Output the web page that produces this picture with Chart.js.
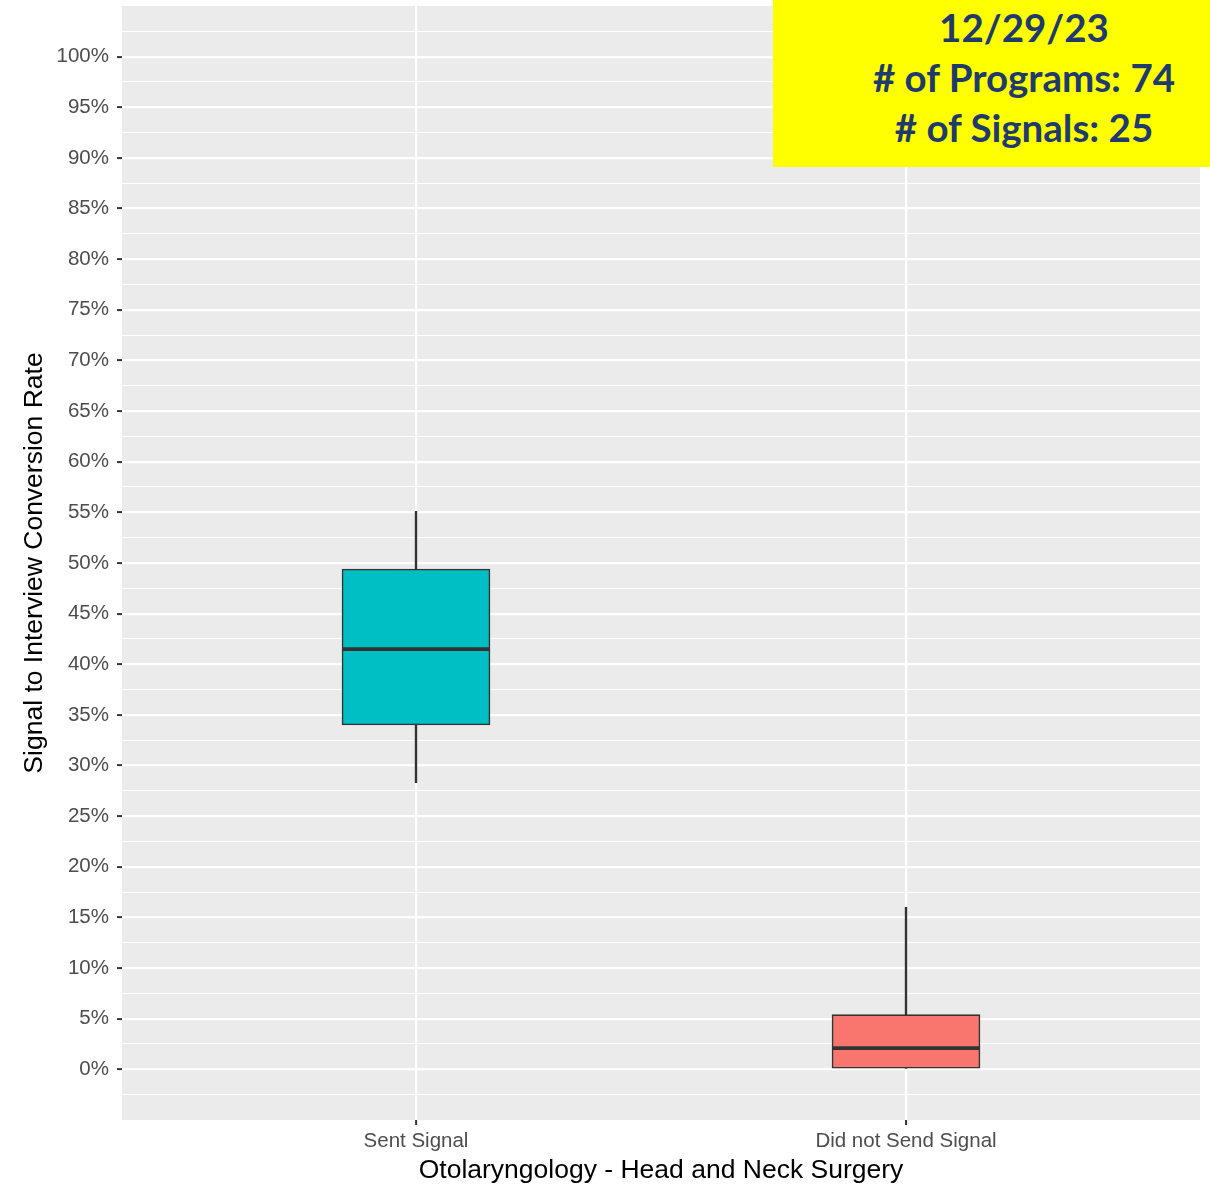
<!DOCTYPE html>
<html>
<head>
<meta charset="utf-8">
<script src="https://cdn.jsdelivr.net/npm/chart.js@4/dist/chart.umd.min.js"></script>
<style>
  body { margin: 0; background: #fff; }
  #wrap { position: relative; width: 1210px; height: 1184px; }
  #note {
    position: absolute; left: 773px; top: 0; width: 437px; height: 167px;
    box-sizing: border-box; padding: 2px 0 0 65px;
    background: #ffff00; color: #1f3b6e;
    font-family: Lato, "Open Sans", sans-serif; font-weight: 700;
    font-size: 38.5px; line-height: 50px; text-align: center;
  }
</style>
</head>
<body>
<div id="wrap">
  <canvas id="chart" width="1210" height="1184"></canvas>
  <div id="note">12/29/23<br># of Programs: 74<br># of Signals: 25</div>
</div>
<script>
// values (percent)
const categories = ["Sent Signal", "Did not Send Signal"];
const whiskerLow = [28.3, 0];
const q1 = [34.0, 0];
const median = [41.5, 2.1];
const q3 = [49.4, 5.4];
const whiskerHigh = [55.1, 16.0];
const boxColors = ["#00BFC4", "#F8766D"];

const panelBg = {
  id: "panelBg",
  beforeDraw(chart) {
    const { ctx, chartArea: a } = chart;
    ctx.save();
    ctx.fillStyle = "#EBEBEB";
    ctx.fillRect(a.left, a.top, a.right - a.left, a.bottom - a.top);
    ctx.restore();
  }
};

// median line across each box
const medians = {
  id: "medians",
  afterDatasetsDraw(chart) {
    const { ctx, scales: { x, y } } = chart;
    ctx.save();
    ctx.strokeStyle = "#333333";
    ctx.lineWidth = 3.8;
    median.forEach((m, i) => {
      const cx = x.getPixelForValue(i + 1);
      const py = y.getPixelForValue(m);
      ctx.beginPath();
      ctx.moveTo(cx - 73.5, py);
      ctx.lineTo(cx + 73.5, py);
      ctx.stroke();
    });
    ctx.restore();
  }
};

const isMajor = v => Math.abs(v % 5) < 1e-9 && v >= 0 && v <= 100;
const isEdge = v => v < -4.9 || v > 104.9;

new Chart(document.getElementById("chart"), {
  type: "bar",
  data: {
    datasets: [
      {
        label: "box",
        data: categories.map((c, i) => ({ x: i + 1, y: [q1[i], q3[i]] })),
        backgroundColor: boxColors,
        borderColor: "#333333",
        borderWidth: 1.6,
        borderSkipped: false,
        barThickness: 148,
        order: 0
      },
      {
        label: "whisker",
        data: categories.map((c, i) => ({ x: i + 1, y: [whiskerLow[i], whiskerHigh[i]] })),
        backgroundColor: "#333333",
        borderWidth: 0,
        barThickness: 1.7,
        order: 1
      }
    ]
  },
  options: {
    responsive: false,
    animation: false,
    grouped: false,
    layout: { padding: { top: 6, right: 10, bottom: 0, left: 0 } },
    plugins: { legend: { display: false }, tooltip: { enabled: false } },
    scales: {
      x: {
        type: "linear",
        min: 0.4,
        max: 2.6,
        offset: false,
        afterBuildTicks: s => { s.ticks = categories.map((c, i) => ({ value: i + 1 })); },
        afterFit: s => { s.height = 64; s.paddingLeft = 0; s.paddingRight = 0; },
        border: { display: false },
        grid: { offset: false, color: "#ffffff", lineWidth: 2.2, tickColor: "#333333", tickLength: 5, tickWidth: 2 },
        ticks: {
          autoSkip: false,
          maxRotation: 0,
          padding: 4,
          color: "#4D4D4D",
          font: { family: "'Liberation Sans', Arial, sans-serif", size: 20.5 },
          callback: v => categories[v - 1]
        },
        title: {
          display: true,
          text: "Otolaryngology - Head and Neck Surgery",
          color: "#000000",
          padding: { top: 0, bottom: 0 },
          font: { family: "'Liberation Sans', Arial, sans-serif", size: 26.5, lineHeight: 1.0 }
        }
      },
      y: {
        min: -5,
        max: 105,
        afterFit: s => { s.width = 122; s.paddingTop = 0; s.paddingBottom = 0; },
        border: { display: false },
        grid: {
          color: c => isEdge(c.tick.value) ? "rgba(0,0,0,0)" : "#ffffff",
          lineWidth: c => isMajor(c.tick.value) ? 2.2 : 1.1,
          tickColor: c => isMajor(c.tick.value) ? "#333333" : "rgba(0,0,0,0)",
          tickLength: 5,
          tickWidth: 2
        },
        ticks: {
          stepSize: 2.5,
          autoSkip: false,
          padding: 8,
          color: "#4D4D4D",
          font: { family: "'Liberation Sans', Arial, sans-serif", size: 20.5 },
          callback: v => isMajor(v) ? v + "%" : ""
        },
        title: {
          display: true,
          text: "Signal to Interview Conversion Rate",
          color: "#000000",
          padding: { top: 19, bottom: 0 },
          font: { family: "'Liberation Sans', Arial, sans-serif", size: 26.5 }
        }
      }
    }
  },
  plugins: [panelBg, medians]
});
</script>
</body>
</html>
